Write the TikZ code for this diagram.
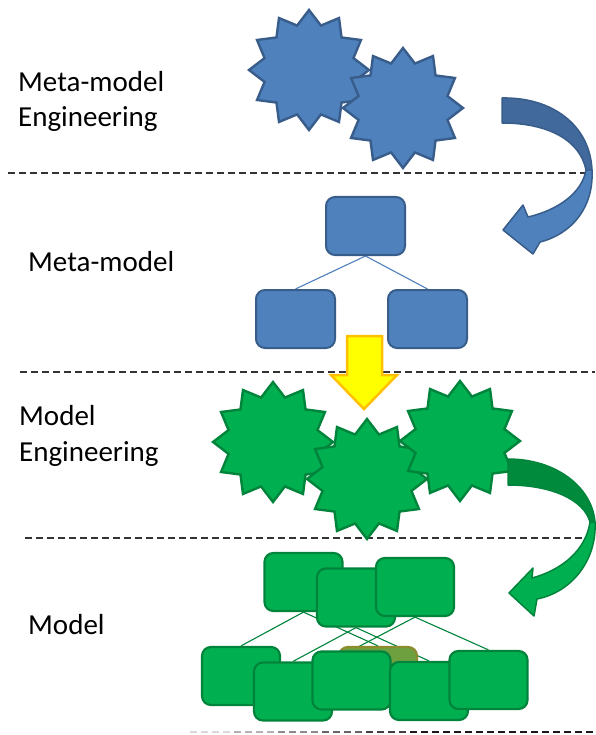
\documentclass[tikz,border=0pt]{standalone}
\usepackage{fontspec}
\setmainfont{Carlito}
\usetikzlibrary{backgrounds}
\definecolor{bfill}{HTML}{4F81BD}
\definecolor{bline}{HTML}{385D8A}
\definecolor{bdark}{HTML}{41699C}
\definecolor{gfill}{HTML}{00B050}
\definecolor{gline}{HTML}{00843C}
\definecolor{gdark}{HTML}{008A3C}
\definecolor{yfill}{HTML}{FFFF00}
\definecolor{yline}{HTML}{FFC000}
\definecolor{olivef}{HTML}{6FA040}
\definecolor{olivel}{HTML}{8C8C2E}
\definecolor{dashc}{HTML}{333333}
\newcommand\startwelve[3]{\draw[#1] plot[samples at={0,...,23}] ({#2+(60-14*mod(\x,2))*cos(90+15*\x)},{#3+(60-14*mod(\x,2))*sin(90+15*\x)}) -- cycle;}
\begin{document}
\begin{tikzpicture}[x=1pt,y=-1pt,
 lbl/.style={font=\fontsize{29}{35}\selectfont, inner sep=0pt, anchor=base west, text=black},
 bbox/.style={draw=bline, fill=bfill, line width=2pt, rounded corners=9pt, minimum width=79pt, minimum height=58pt, inner sep=0pt},
 gbox/.style={draw=gline, fill=gfill, line width=2.2pt, rounded corners=9pt, minimum width=78pt, minimum height=58pt, inner sep=0pt},
 obox/.style={gbox, draw=olivel, fill=olivef},
 sep/.style={draw=dashc, line width=1.4pt, dash pattern=on 7pt off 4pt},
 blink/.style={draw=bfill, line width=1.1pt},
 glink/.style={draw=gline, line width=1.1pt},
 bstar/.style={draw=bline, fill=bfill, line width=2.4pt, line join=miter},
 gstar/.style={draw=gline, fill=gfill, line width=2.4pt, line join=miter},
 barrowd/.style={draw=bline, fill=bdark, line width=1.5pt, line join=round},
 barrowl/.style={draw=bline, fill=bfill, line width=1.5pt, line join=round},
 garrowd/.style={draw=gline, fill=gdark, line width=1.5pt, line join=round},
 garrowl/.style={draw=gline, fill=gfill, line width=1.5pt, line join=round}
]
\useasboundingbox (0,0) rectangle (595,735);

% separators
\draw[sep] (8,173) -- (585,173);
\draw[sep] (20,372) -- (595,372);
\draw[sep] (25,538) -- (595,538);
\foreach \i in {0,...,9} {
  \pgfmathsetmacro\xa{190+44*\i}
  \pgfmathsetmacro\xb{min(595,\xa+44)}
  \pgfmathtruncatemacro\shade{min(90,15+15*\i)}
  \draw[sep, line width=2pt, draw=black!\shade] (\xa,732) -- (\xb,732);
}

% labels
\node[lbl] (l1) at (18,92) {Meta-model};
\node[lbl] (l2) at (18,127) {Engineering};
\node[lbl] (l3) at (28,271) {Meta-model};
\node[lbl] (l4) at (19,425) {Model};
\node[lbl] (l5) at (19,461) {Engineering};
\node[lbl] (l6) at (28,634) {Model};

% blue stars
\startwelve{bstar}{309}{70}
\startwelve{bstar}{403}{108}

% blue curved arrow
\draw[barrowd] (502,98) .. controls (552,97) and (590,125) .. (592,170) -- (586,170) .. controls (580,140) and (548,123) .. (502,123) -- cycle;
\draw[barrowl] (592,170) .. controls (594,207) and (572,234) .. (540,242) -- (533,254) -- (503,230) -- (523,205) -- (528,217) .. controls (558,210) and (582,193) .. (586,170) -- cycle;

% meta-model tree
\node[bbox] (mt) at (365.5,226) {};
\node[bbox] (ml) at (295.5,319) {};
\node[bbox] (mr) at (427.5,319) {};

% yellow arrow
\draw[draw=yline, fill=yfill, line width=2.5pt, line join=miter]
  (347,336) -- (382,336) -- (382,375) -- (397,375) -- (364,409) -- (331,375) -- (347,375) -- cycle;

% green stars
\startwelve{gstar}{273}{442}
\startwelve{gstar}{367}{479}
\startwelve{gstar}{460}{441}

% green curved arrow
\draw[garrowd] (508,459) .. controls (556,459) and (592,487) .. (595,522) -- (590,522) .. controls (584,500) and (552,485) .. (508,485) -- cycle;
\draw[garrowl] (595,522) .. controls (597,560) and (572,592) .. (537,599) -- (534,616) -- (509,593) -- (533,568) -- (532,578) .. controls (562,570) and (586,550) .. (590,522) -- cycle;

% model boxes
\node[gbox] (r1) at (303.5,582) {};
\node[gbox] (r2) at (356,597.5) {};
\node[gbox] (r3) at (415,587) {};
\node[gbox] (b1) at (241,676) {};
\node[gbox] (b2) at (293,691.5) {};
\node[obox] (bo) at (378,676) {};
\node[gbox] (b3) at (351.5,680.5) {};
\node[gbox] (b4) at (429,691) {};
\node[gbox] (b5) at (488.5,680) {};

\begin{scope}[on background layer]
  \fill[white] (0,0) rectangle (595,735);
  \draw[blink] (mt.south) -- (ml.north);
  \draw[blink] (mt.south) -- (mr.north);
  \draw[glink] (r1.south) -- (b1.north);
  \draw[glink] (r1.south) -- (bo.north);
  \draw[glink] (r2.south) -- (b2.north);
  \draw[glink] (r2.south) -- (b4.north);
  \draw[glink] (r3.south) -- (b3.north);
  \draw[glink] (r3.south) -- (b5.north);
\end{scope}
\end{tikzpicture}
\end{document}
